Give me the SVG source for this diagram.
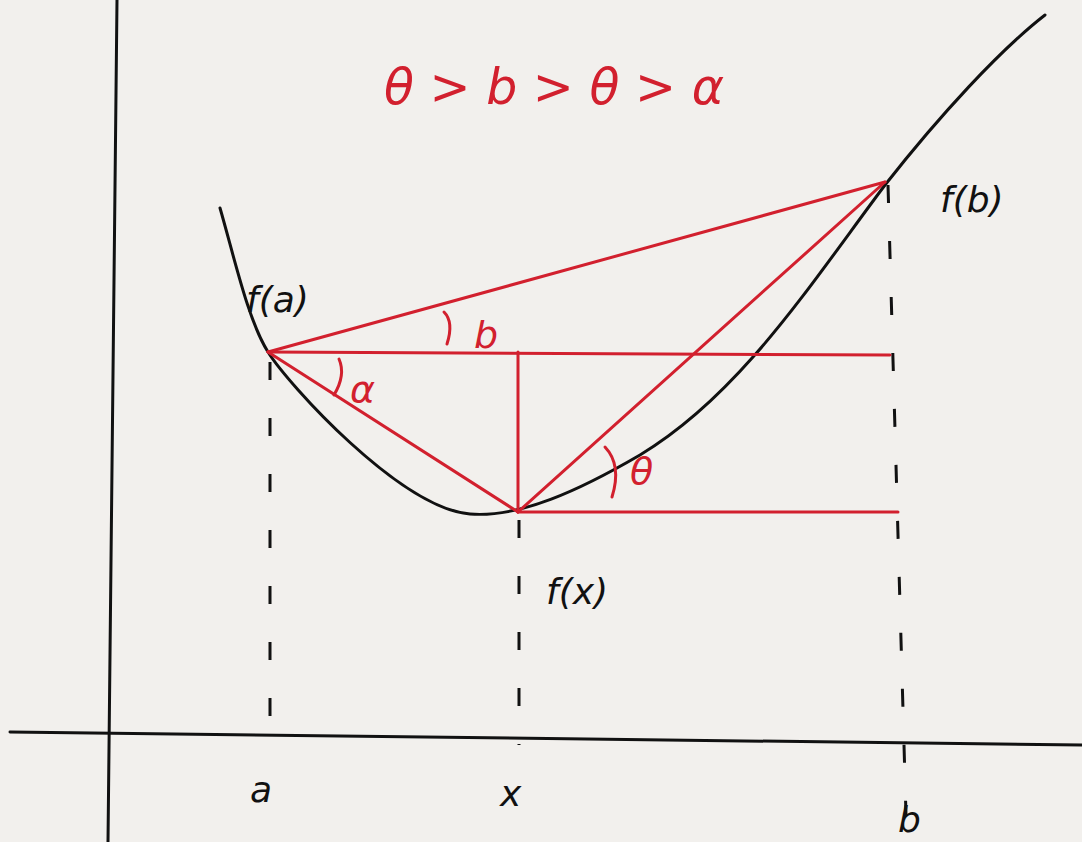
<svg xmlns="http://www.w3.org/2000/svg" width="1082" height="842" viewBox="0 0 1082 842">
<defs>
<style>
.bk{stroke:#111;stroke-width:3;fill:none;stroke-linecap:round}
.rd{stroke:#d2202e;stroke-width:3;fill:none;stroke-linecap:round}
.dash{stroke:#111;stroke-width:3;fill:none;stroke-dasharray:18 38}
.tb{font-family:"DejaVu Sans",sans-serif;font-size:36px;fill:#111;font-style:italic}
.tr{font-family:"DejaVu Sans",sans-serif;font-size:38px;fill:#d2202e;font-style:italic}
.title{font-size:49px}
</style>
</defs>
<rect width="1082" height="842" fill="#f2f0ed"/>
<g id="axes">
<line class="bk" x1="117" y1="0" x2="108" y2="842"/>
<line class="bk" x1="10" y1="732" x2="1082" y2="745"/>
</g>
<g id="curve">
<path class="bk" d="M220,208 C235,260 248,320 268,352 C288,384 400,508 470,514 C520,518 580,490 640,455 C740,395 810,285 885,185 C940,115 1000,50 1045,15"/>
</g>
<g id="guides">
<path class="dash" d="M270,358 V735" stroke-dashoffset="-60"/>
<path class="dash" d="M519,520 V745" stroke-dasharray="16 30"/>
<path class="dash" d="M888,185 L906,815" stroke-dasharray="40 60 20 45 20 45 40 40 20 40 20 45 20 40 25 45"/>
</g>
<g id="red-lines">
<line class="rd" x1="268" y1="352" x2="885" y2="182"/>
<line class="rd" x1="268" y1="352" x2="890" y2="355"/>
<line class="rd" x1="268" y1="352" x2="518" y2="512"/>
<line class="rd" x1="518" y1="352" x2="518" y2="512"/>
<line class="rd" x1="518" y1="512" x2="885" y2="182"/>
<line class="rd" x1="518" y1="512" x2="898" y2="512"/>
<path class="rd" d="M444,312 Q454,322 447,344"/>
<path class="rd" d="M339,359 Q346,375 334,395"/>
<path class="rd" d="M605,447 Q622,465 612,497"/>
</g>
<g id="labels">
<text class="tr title" x="384" y="104">θ &gt; b &gt; θ &gt; α</text>
<text class="tb" x="246" y="312">f(a)</text>
<text class="tb" x="940" y="212">f(b)</text>
<text class="tb" x="546" y="604">f(x)</text>
<text class="tr" x="474" y="348">b</text>
<text class="tr" x="350" y="402">α</text>
<text class="tr" x="630" y="484">θ</text>
<text class="tb" x="250" y="802">a</text>
<text class="tb" x="500" y="806">x</text>
<text class="tb" x="898" y="832">b</text>
</g>
</svg>
